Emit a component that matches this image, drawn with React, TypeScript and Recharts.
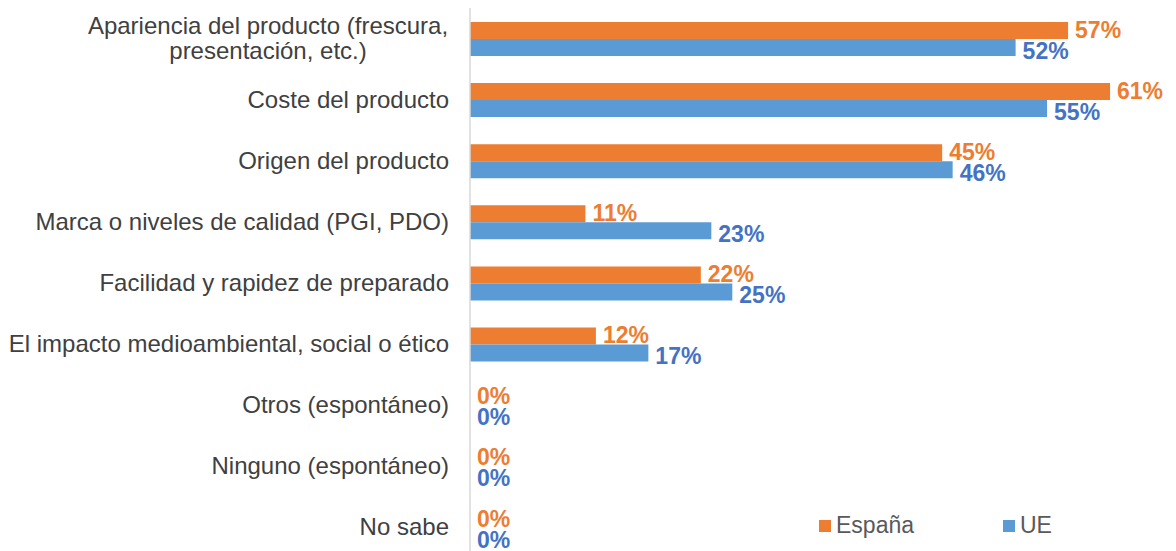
import { BarChart, Bar, XAxis, YAxis, LabelList } from "recharts";

const categories = [
  "Apariencia del producto (frescura,\npresentación, etc.)",
  "Coste del producto",
  "Origen del producto",
  "Marca o niveles de calidad (PGI, PDO)",
  "Facilidad y rapidez de preparado",
  "El impacto medioambiental, social o ético",
  "Otros (espontáneo)",
  "Ninguno (espontáneo)",
  "No sabe",
];
const espana = [57, 61, 45, 11, 22, 12, 0, 0, 0];
const ue = [52, 55, 46, 23, 25, 17, 0, 0, 0];

const ORANGE = "#ED7D31";
const BLUE = "#5B9BD5";
const BLUE_LABEL = "#4472C4";
const FONT = "'Liberation Sans', Arial, sans-serif";

const data = categories.map((name, i) => ({ name, espana: espana[i], ue: ue[i] }));

function CategoryTick({ x, y, payload }: any) {
  const lines = String(payload.value).split("\n");
  if (lines.length === 1) {
    return (
      <text x={x} y={y} dy={8} textAnchor="end" fill="#404040" fontSize={24} fontFamily={FONT}>
        {lines[0]}
      </text>
    );
  }
  // wrapped label: lines centred on each other, like Excel does
  return (
    <text x={x - 181} y={y} textAnchor="middle" fill="#404040" fontSize={24} fontFamily={FONT}>
      {lines.map((l, i) => (
        <tspan key={i} x={x - 181} dy={i === 0 ? -5 : 25}>
          {l}
        </tspan>
      ))}
    </text>
  );
}

function ChartLegend() {
  const item = (color: string, label: string, left: number) => (
    <div style={{ position: "absolute", left, top: 0, display: "flex", alignItems: "center" }}>
      <span style={{ width: 12, height: 12, background: color, display: "inline-block", marginRight: 5 }} />
      <span style={{ fontSize: 23, color: "#595959", fontFamily: FONT }}>{label}</span>
    </div>
  );
  return (
    <div style={{ position: "absolute", left: 819, top: 512, width: 260, height: 30 }}>
      {item(ORANGE, "España", 0)}
      {item(BLUE, "UE", 184)}
    </div>
  );
}

const pct = (v: any) => `${v}%`;

export default function App() {
  return (
    <div style={{ position: "absolute", left: 0, top: 0, width: 1176, height: 551, overflow: "hidden", background: "#fff" }}>
      <BarChart
        width={1176}
        height={558}
        data={data}
        layout="vertical"
        margin={{ top: 8, right: 3, left: 0, bottom: 0 }}
        barGap={0}
        barSize={17}
      >
        <XAxis type="number" domain={[0, 67]} hide />
        <YAxis
          type="category"
          dataKey="name"
          width={470}
          tickLine={false}
          tickSize={0}
          tickMargin={21}
          axisLine={{ stroke: "#D9D9D9", strokeWidth: 1.5 }}
          tick={<CategoryTick />}
          interval={0}
        />
        <Bar dataKey="espana" name="España" fill={ORANGE} minPointSize={0.01} isAnimationActive={false}>
          <LabelList
            dataKey="espana"
            position="right"
            offset={7}
            dy={-1}
            formatter={pct}
            fill={ORANGE}
            fontSize={23}
            fontWeight="bold"
            fontFamily={FONT}
          />
        </Bar>
        <Bar dataKey="ue" name="UE" fill={BLUE} minPointSize={0.01} isAnimationActive={false}>
          <LabelList
            dataKey="ue"
            position="right"
            offset={7}
            dy={3}
            formatter={pct}
            fill={BLUE_LABEL}
            fontSize={23}
            fontWeight="bold"
            fontFamily={FONT}
          />
        </Bar>
      </BarChart>
      <ChartLegend />
    </div>
  );
}
